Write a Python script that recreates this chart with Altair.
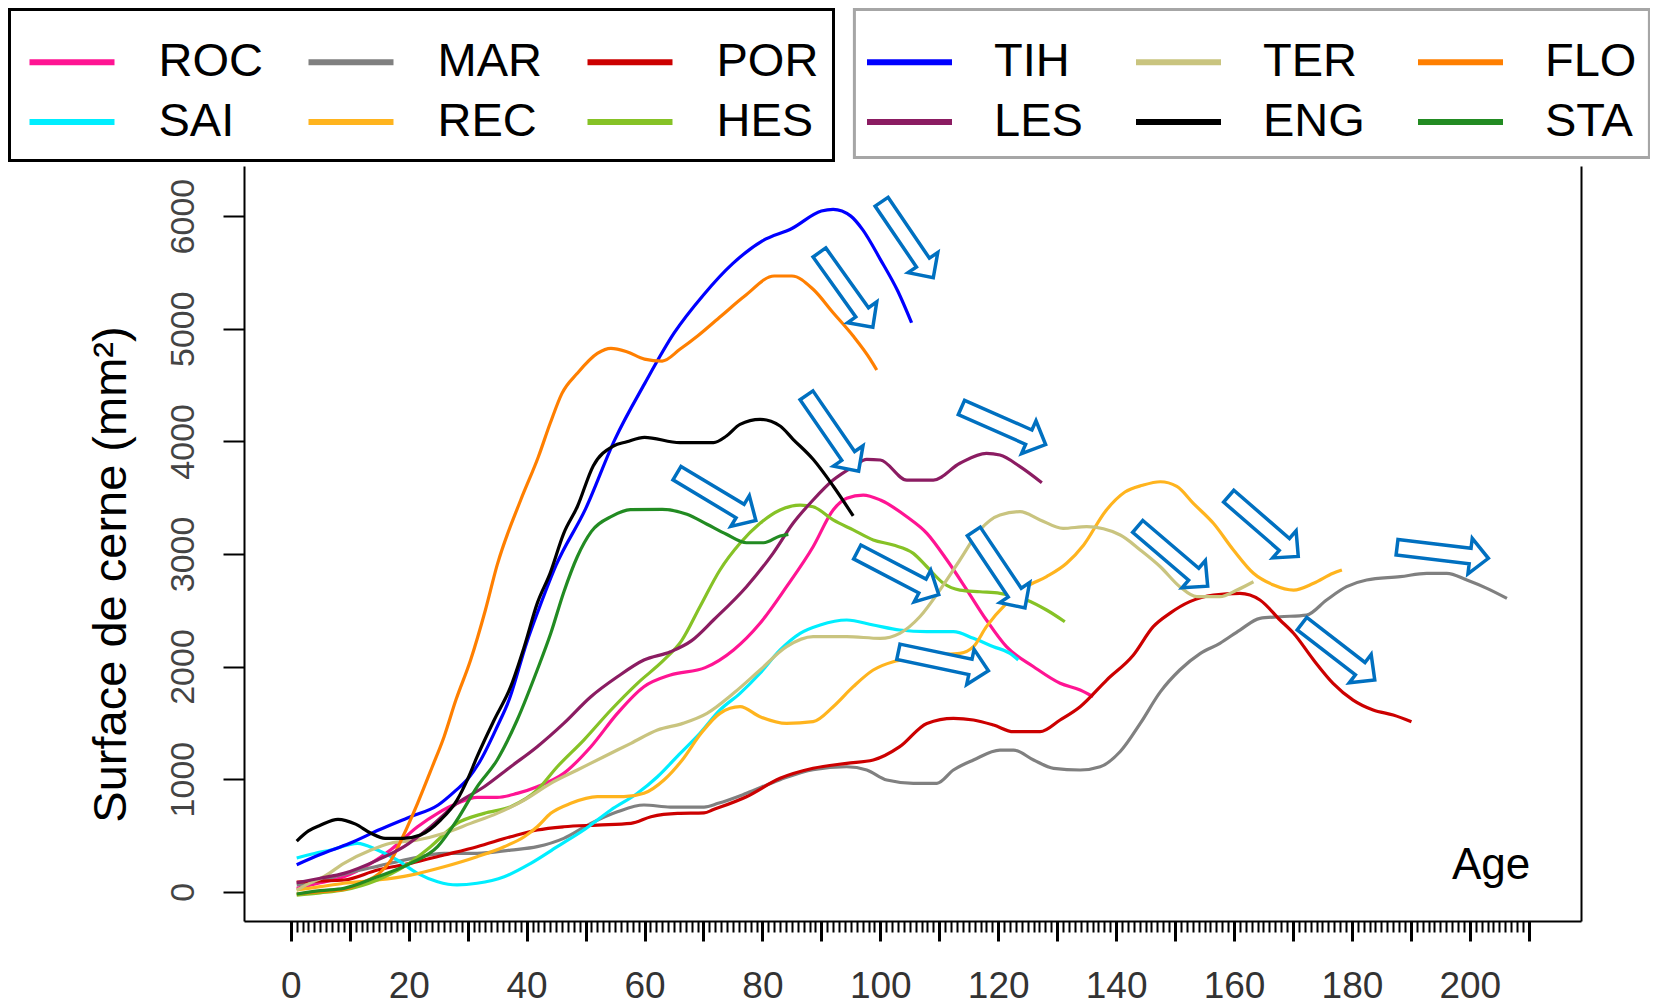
import altair as alt
import pandas as pd

# ---------------- data ----------------
ROC_AGE = [1, 5, 9, 13.6, 16.9, 21.5, 24.9, 28.2, 31.6, 35, 38.4, 41.8, 46.3, 50.9, 55.4, 59.9, 64.4, 70.3, 75.1, 79.6, 84.1, 88.6, 92, 94.3, 97.1, 100, 104.5, 107.9, 111.3, 114.7, 118, 121.4, 126, 130.5, 133.9, 136.1]
ROC_VAL = [30, 80, 133, 252, 370, 577, 696, 785, 838, 838, 873, 932, 1051, 1288, 1584, 1821, 1925, 1990, 2147, 2384, 2709, 3064, 3390, 3494, 3523, 3479, 3330, 3183, 2946, 2679, 2413, 2176, 1998, 1851, 1791, 1732]

SAI_AGE = [1, 4, 6.8, 11.3, 14.7, 18.1, 21.5, 24.9, 28.2, 31.6, 36.2, 40.7, 45.2, 49.7, 54.3, 58.8, 62.2, 65.8, 69.4, 72.8, 76.2, 79.6, 83, 86.4, 89.8, 94.3, 98.8, 103.3, 107.9, 112.4, 115.8, 119.2, 122, 123.4]
SAI_VAL = [300, 340, 370, 430, 370, 281, 163, 89, 60, 75, 133, 252, 400, 548, 726, 874, 1021, 1215, 1407, 1614, 1762, 1940, 2147, 2295, 2369, 2413, 2369, 2324, 2309, 2309, 2250, 2176, 2117, 2058]

MAR_AGE = [1, 5, 10, 15, 20, 26, 31.6, 37.3, 41.8, 46.3, 50.9, 55.4, 59.9, 64.4, 70.1, 72.5, 77.3, 83, 88.6, 94.3, 97.7, 101.1, 105.6, 109.6, 112.4, 115.8, 120.3, 122.6, 126, 129.4, 133.9, 137.3, 140.7, 144.1, 147.5, 150.8, 154.3, 157.6, 161, 164.4, 167.8, 172.3, 175.7, 179.1, 182.5, 188.2, 192.7, 196.1, 199.5, 202.9, 206.3]
MAR_VAL = [60, 100, 170, 230, 290, 341, 341, 370, 400, 474, 607, 710, 770, 752, 752, 785, 874, 995, 1085, 1110, 1081, 992, 963, 963, 1081, 1170, 1258, 1258, 1170, 1096, 1081, 1110, 1245, 1495, 1775, 1969, 2117, 2206, 2324, 2428, 2442, 2457, 2591, 2709, 2768, 2798, 2828, 2828, 2768, 2694, 2605]

REC_AGE = [1, 5, 9, 14.7, 20.3, 26, 31.6, 36.2, 39.6, 41.8, 44.1, 47.5, 52, 56.5, 59.9, 63.3, 66.4, 69.6, 72.8, 76.2, 79.6, 84.1, 88.6, 92, 95.4, 98.8, 102.2, 105.6, 109, 113.5, 115.8, 118, 121.4, 124.8, 128.2, 131.6, 134.5, 138.2, 141.5, 144.5, 147.5, 150.3, 153.1, 156.5, 159.9, 163.3, 166.7, 170.1, 173.5, 176.8, 178.3]
REC_VAL = [15, 45, 75, 104, 148, 222, 311, 400, 488, 577, 696, 785, 844, 844, 874, 992, 1170, 1407, 1584, 1643, 1554, 1495, 1510, 1643, 1821, 1969, 2043, 2073, 2102, 2117, 2176, 2354, 2561, 2709, 2798, 2917, 3080, 3380, 3550, 3610, 3641, 3600, 3449, 3272, 3035, 2828, 2724, 2679, 2739, 2828, 2857]

POR_AGE = [1, 5, 9, 14.7, 20.3, 26, 31.6, 37.3, 41.8, 46.3, 52, 57.7, 61.1, 65.6, 70.1, 71.7, 77.3, 83, 88.6, 94.3, 98.8, 103.3, 107.9, 112.4, 115.8, 119.2, 122.6, 127.1, 130.5, 133.9, 138.4, 142.9, 146.3, 149.1, 152.5, 156.5, 161, 164.4, 167.8, 170.1, 173.5, 176.8, 180.2, 183.6, 187, 190.1]
POR_VAL = [85, 95, 104, 193, 252, 326, 400, 488, 548, 577, 592, 607, 666, 696, 700, 730, 844, 1007, 1096, 1140, 1170, 1288, 1495, 1540, 1525, 1480, 1421, 1421, 1525, 1643, 1880, 2100, 2354, 2472, 2576, 2635, 2650, 2591, 2413, 2295, 2058, 1851, 1702, 1614, 1569, 1510]

HES_AGE = [1, 5, 9, 14.7, 19.2, 23.7, 28.2, 32.8, 37.3, 41.8, 45.2, 49.7, 54.3, 58.8, 63.3, 66.3, 69.4, 72.8, 76.2, 79.6, 83, 86.4, 88.6, 92, 95.4, 98.8, 102.2, 105.6, 107.9, 110.7, 113.5, 116.9, 120.3, 124.8, 128.2, 131.3]
HES_VAL = [-30, -10, 15, 104, 222, 400, 607, 696, 755, 903, 1110, 1347, 1614, 1851, 2058, 2230, 2531, 2857, 3094, 3272, 3390, 3434, 3419, 3302, 3213, 3124, 3079, 3005, 2886, 2739, 2679, 2664, 2650, 2591, 2502, 2398]

TIH_AGE = [1, 5, 10, 15, 20, 25, 28, 30, 32, 35, 37, 40, 42, 45, 50, 55, 60, 65, 70, 75, 80, 85, 90, 92, 95, 97, 100, 103, 105.3]
TIH_VAL = [240, 330, 430, 550, 660, 770, 900, 1000, 1150, 1465, 1700, 2210, 2500, 2900, 3400, 4020, 4510, 4960, 5300, 5580, 5780, 5890, 6045, 6060, 6000, 5880, 5616, 5330, 5053]

LES_AGE = [1, 5, 9, 14.7, 19.2, 23.7, 28.2, 32.8, 37.3, 41.8, 46.3, 50.9, 55.4, 59.9, 64.4, 68, 71.7, 77.3, 81.8, 85.2, 88.6, 92, 95.4, 97.7, 100, 104.5, 109, 113.5, 118, 120.3, 123.7, 127.4]
LES_VAL = [80, 120, 163, 281, 400, 577, 785, 932, 1110, 1288, 1495, 1732, 1909, 2058, 2131, 2230, 2413, 2709, 3005, 3272, 3479, 3656, 3775, 3840, 3834, 3656, 3656, 3805, 3893, 3878, 3775, 3632]

TER_AGE = [1, 3, 5.6, 9, 13.6, 16.9, 21.5, 26, 30.5, 35, 39.6, 44.1, 48.6, 53.1, 57.7, 62.2, 66.5, 70.6, 75.1, 79.6, 84.1, 88.6, 94.3, 100, 103.3, 106.7, 110.1, 113.5, 116.9, 120.3, 123.7, 127.1, 131, 135, 140.7, 144.1, 147.5, 150.8, 153.7, 157.6, 160.5, 163.3]
TER_VAL = [15, 70, 133, 252, 370, 430, 459, 519, 607, 696, 814, 963, 1081, 1199, 1318, 1436, 1495, 1584, 1762, 1969, 2176, 2265, 2265, 2250, 2295, 2442, 2679, 2946, 3213, 3346, 3375, 3302, 3227, 3242, 3168, 3035, 2886, 2709, 2620, 2620, 2679, 2753]

ENG_AGE = [1, 3, 5, 8, 11, 13.6, 16, 19, 22, 25.4, 28.2, 30, 31.6, 34.5, 37.3, 39.6, 41.8, 44, 46.3, 48.6, 51.3, 54.7, 57, 60, 66, 71.7, 73.9, 76.2, 79.6, 83, 85.2, 88.6, 92, 95.4]
ENG_VAL = [450, 540, 590, 643, 600, 519, 474, 474, 504, 637, 814, 1000, 1199, 1525, 1821, 2176, 2561, 2830, 3183, 3419, 3781, 3958, 3996, 4035, 3988, 3988, 4047, 4151, 4195, 4136, 4018, 3840, 3603, 3337]

FLO_AGE = [1, 5, 9, 12, 15, 17, 19, 21.5, 24, 26, 28, 30.5, 33, 35, 39, 42, 44, 46, 48.6, 52, 54.3, 57, 60, 63, 66, 69, 73, 77, 82, 85, 88.6, 92, 95.4, 98.3, 99.4]
FLO_VAL = [-20, 0, 20, 80, 163, 280, 488, 785, 1110, 1377, 1702, 2058, 2500, 2900, 3479, 3863, 4160, 4426, 4604, 4781, 4826, 4796, 4730, 4713, 4817, 4935, 5113, 5290, 5468, 5468, 5350, 5142, 4935, 4728, 4633]

STA_AGE = [1, 5, 9, 14.7, 20.3, 24.9, 28.2, 31.6, 35, 38.4, 41.8, 44.1, 46.3, 48.6, 51, 54.5, 57.6, 63, 67.2, 70.6, 73.9, 77.3, 80.2, 83, 84.4]
STA_VAL = [-20, 10, 30, 133, 252, 400, 637, 932, 1170, 1525, 1969, 2295, 2660, 2975, 3200, 3335, 3393, 3396, 3352, 3263, 3174, 3099, 3099, 3159, 3174]

# legend groups (row-major order: 3 columns x 2 rows)
SERIES_A = ["ROC", "MAR", "POR", "SAI", "REC", "HES"]
COLORS_A = ["#FF1493", "#808080", "#CC0000", "#00EEFF", "#FFB41E", "#86C226"]
SERIES_B = ["TIH", "TER", "FLO", "LES", "ENG", "STA"]
COLORS_B = ["#0000FF", "#C9C47F", "#FF7F00", "#8B1C62", "#000000", "#228B22"]

# annotation arrows (centre in data units, rotation in degrees)
ARROW_AGE = [104.6, 94.2, 91.9, 120.9, 72.2, 103.0, 120.2, 110.7, 149.6, 165.0, 177.7, 195.4]
ARROW_VAL = [5790, 5345, 4072, 4136, 3507, 2828, 2860, 2047, 2979, 3245, 2131, 3010]
ARROW_ANGLE = [55.8, 54.5, 55.5, 23.8, 31.0, 27.6, 56.2, 11.9, 40.5, 40.9, 37.7, 6.9]

AGE_LABEL = ["Age"]
AGE_LABEL_X = [203.6]
AGE_LABEL_Y = [115]

X_TICKS_MAJOR = list(range(0, 211, 10))
X_TICKS_MINOR = list(range(0, 211, 1))
Y_TICKS = [0, 1000, 2000, 3000, 4000, 5000, 6000]

# ---------------- build tables ----------------
def long_df(names, ages, vals):
    rows = []
    for n, a, v in zip(names, ages, vals):
        for ai, vi in zip(a, v):
            rows.append({"serie": n, "age": ai, "surface": vi})
    return pd.DataFrame(rows)

df_a = long_df(SERIES_A,
               [ROC_AGE, MAR_AGE, POR_AGE, SAI_AGE, REC_AGE, HES_AGE],
               [ROC_VAL, MAR_VAL, POR_VAL, SAI_VAL, REC_VAL, HES_VAL])
df_b = long_df(SERIES_B,
               [TIH_AGE, TER_AGE, FLO_AGE, LES_AGE, ENG_AGE, STA_AGE],
               [TIH_VAL, TER_VAL, FLO_VAL, LES_VAL, ENG_VAL, STA_VAL])
df_arrows = pd.DataFrame({"age": ARROW_AGE, "surface": ARROW_VAL, "angle": ARROW_ANGLE})
df_label = pd.DataFrame({"txt": AGE_LABEL, "age": AGE_LABEL_X, "surface": AGE_LABEL_Y})

FONT = "Liberation Sans"
xscale = alt.Scale(domain=[-7.94, 218.86], nice=False, zero=False)
yscale = alt.Scale(domain=[-260, 6445], nice=False, zero=False)

x_major_axis = alt.Axis(orient="bottom", values=X_TICKS_MAJOR,
                        labelExpr="datum.value % 20 == 0 ? datum.label : ''",
                        tickSize=20, tickWidth=3, tickColor="black",
                        domain=True, domainColor="black", domainWidth=2,
                        labelFontSize=37, labelFont=FONT, labelColor="#333333",
                        labelPadding=27, labelFlush=False, labelOverlap=False,
                        grid=False, title=None, format="d")
x_minor_axis = alt.Axis(orient="bottom", values=X_TICKS_MINOR, tickSize=11, tickWidth=2,
                        tickColor="black", labels=False, domain=False, grid=False, title=None)
y_left_axis = alt.Axis(orient="left", values=Y_TICKS, tickSize=21, tickWidth=2, tickColor="black",
                       domain=True, domainColor="black", domainWidth=2, format="d",
                       labelAngle=270, labelAlign="center", labelBaseline="alphabetic",
                       labelFontSize=34, labelFont=FONT, labelColor="#444444", labelPadding=30,
                       grid=False, title="Surface de cerne (mm²)",
                       titleFont=FONT, titleFontSize=47, titleFontWeight="normal", titleColor="black",
                       titleAngle=270, titleAlign="center", titleBaseline="alphabetic",
                       titleX=-119, titleY=408)
y_right_axis = alt.Axis(orient="right", domain=True, domainColor="black", domainWidth=2,
                        ticks=False, labels=False, grid=False, title=None)

# legend symbol: a horizontal stroke drawn as a custom path (length 2*sqrt(size))
LEGEND_STROKE = "M-2,0H2"
common_legend = dict(title="\u00a0", titleColor="white", orient="none", columns=3,
                     direction="horizontal", symbolType=LEGEND_STROKE, symbolSize=1806,
                     symbolStrokeWidth=6, labelFontSize=47, labelFont=FONT,
                     labelColor="black", labelLimit=400, gridAlign="each", rowPadding=12)

legend_a = alt.Legend(legendX=-234.5, legendY=-156.5, padding=15, titleFontSize=11, titlePadding=2,
                      labelOffset=62, symbolOffset=23, columnPadding=33,
                      strokeColor="black", **common_legend)
legend_b = alt.Legend(legendX=610.4, legendY=-156.5, padding=12, titleFontSize=13, titlePadding=3,
                      labelOffset=60, symbolOffset=18.6, columnPadding=40,
                      strokeColor="#A6A6A6", **common_legend)

lines_a = alt.Chart(df_a).mark_line(strokeWidth=3.2, interpolate="monotone").encode(
    x=alt.X("age:Q", scale=xscale, axis=x_major_axis),
    y=alt.Y("surface:Q", scale=yscale, axis=y_left_axis),
    color=alt.Color("serie:N", scale=alt.Scale(domain=SERIES_A, range=COLORS_A), legend=legend_a),
)
lines_b = alt.Chart(df_b).mark_line(strokeWidth=3.2, interpolate="monotone").encode(
    x=alt.X("age:Q", scale=xscale, axis=x_minor_axis),
    y=alt.Y("surface:Q", scale=yscale, axis=y_right_axis),
    color=alt.Color("serie:N", scale=alt.Scale(domain=SERIES_B, range=COLORS_B), legend=legend_b),
)

ARROW_SHAPE = "M-1,-0.17L0.6,-0.17L0.6,-0.39L1,0L0.6,0.39L0.6,0.17L-1,0.17Z"
arrows = alt.Chart(df_arrows).mark_point(
    shape=ARROW_SHAPE, size=8464, filled=True, fill="white", fillOpacity=1,
    stroke="#0070C0", strokeWidth=3.5, strokeOpacity=1, opacity=1
).encode(
    x=alt.X("age:Q", scale=xscale, axis=None),
    y=alt.Y("surface:Q", scale=yscale, axis=None),
    angle=alt.Angle("angle:Q", scale=None),
)

age_text = alt.Chart(df_label).mark_text(
    font=FONT, fontSize=44, align="center", baseline="alphabetic", color="black"
).encode(
    x=alt.X("age:Q", scale=xscale, axis=None),
    y=alt.Y("surface:Q", scale=yscale, axis=None),
    text="txt:N",
)

chart = alt.layer(lines_a, lines_b, arrows, age_text).resolve_scale(
    color="independent"
).resolve_axis(
    x="independent", y="independent"
).properties(
    width=1337, height=755,
    autosize=alt.AutoSizeParams(type="none"),
    padding={"left": 236, "top": 158, "right": 69, "bottom": 84},
    background="white",
).configure_view(
    stroke=None
).configure_legend(
    strokeWidth=3
)

chart.save("out.html", embed_options={"renderer": "svg", "actions": False})
